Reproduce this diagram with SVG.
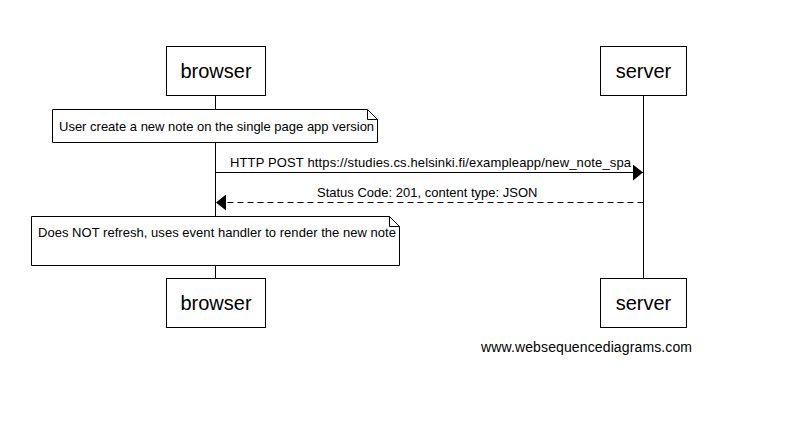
<svg xmlns="http://www.w3.org/2000/svg" width="808" height="425" viewBox="0 0 808 425">
<style>
.box{fill:#fff;stroke:#000;stroke-width:1}
.life{stroke:#000;stroke-width:1}
.pt{font-family:"Liberation Sans",Arial,sans-serif;font-size:20px;fill:#000;text-anchor:middle}
.t{font-family:"Liberation Sans",Arial,sans-serif;font-size:13px;fill:#000}
.msg{stroke:#000;stroke-width:1;fill:none}
</style>
<defs>
<marker id="ah" markerWidth="10" markerHeight="16" refX="10" refY="8" orient="auto" markerUnits="userSpaceOnUse">
<path d="M0,0 L10,8 L0,16 Z" fill="#000"/>
</marker>
</defs>
<rect width="808" height="425" fill="#fff"/>
<g id="lifelines">
<line class="life" x1="215.5" y1="96" x2="215.5" y2="278"/>
<line class="life" x1="643.5" y1="96" x2="643.5" y2="278"/>
</g>
<g id="browser-top"><rect class="box" x="166.5" y="46.5" width="99" height="49"/><text class="pt" x="216" y="78">browser</text></g>
<g id="server-top"><rect class="box" x="600.5" y="46.5" width="86" height="49"/><text class="pt" x="643.5" y="78">server</text></g>
<g id="browser-bottom"><rect class="box" x="166.5" y="278.5" width="99" height="49"/><text class="pt" x="216" y="310">browser</text></g>
<g id="server-bottom"><rect class="box" x="600.5" y="278.5" width="86" height="49"/><text class="pt" x="643.5" y="310">server</text></g>
<g id="note1">
<path class="box" d="M52.5,109.5 H367.5 L377.5,119.5 V142.5 H52.5 Z"/>
<path class="msg" d="M367.5,109.5 V119.5 H377.5"/>
<text class="t" x="59" y="131">User create a new note on the single page app version</text>
</g>
<g id="note2">
<path class="box" d="M31.5,216.5 H389.5 L399.5,226.5 V265.5 H31.5 Z"/>
<path class="msg" d="M389.5,216.5 V226.5 H399.5"/>
<text class="t" x="38" y="237" textLength="358" lengthAdjust="spacing">Does NOT refresh, uses event handler to render the new note</text>
</g>
<g id="connectors">
<line class="msg" x1="215.5" y1="172.5" x2="643" y2="172.5" marker-end="url(#ah)"/>
<text class="t" x="230" y="167" textLength="401" lengthAdjust="spacing">HTTP POST https://studies.cs.helsinki.fi/exampleapp/new_note_spa</text>
<line class="msg" x1="643.5" y1="202.5" x2="216" y2="202.5" stroke-dasharray="6,4" marker-end="url(#ah)"/>
<text class="t" x="317" y="197">Status Code: 201, content type: JSON</text>
</g>
<text class="t" x="481" y="352" style="font-size:14px" textLength="211" lengthAdjust="spacing">www.websequencediagrams.com</text>
</svg>
